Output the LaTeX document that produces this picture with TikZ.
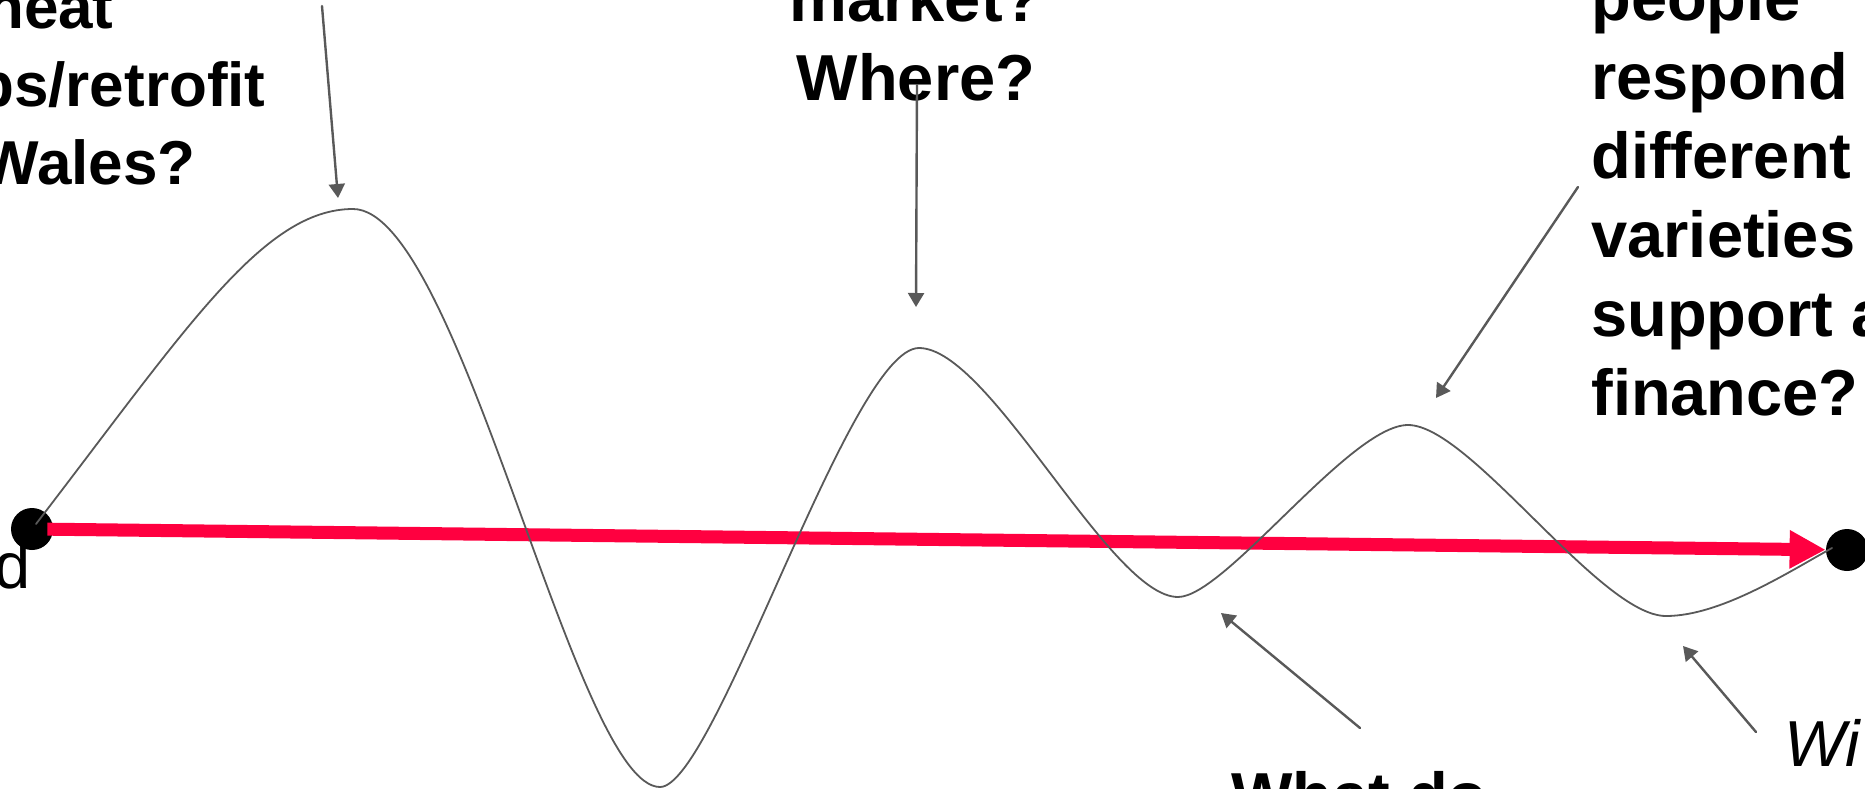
\documentclass[tikz,border=0pt]{standalone}
\usepackage{fontspec}
\setmainfont{Liberation Sans}
\usepackage{xcolor}
\usetikzlibrary{arrows.meta}
\definecolor{pathred}{RGB}{255,0,64}
\definecolor{wavegrey}{RGB}{89,89,89}
\tikzset{
  enddot/.style={circle, fill=black, minimum size=21pt, inner sep=0pt},
  qtext/.style={font=\fontsize{32.5}{39.5}\selectfont\bfseries, inner sep=0pt},
  plaintext/.style={font=\fontsize{32.5}{39.5}\selectfont, inner sep=0pt},
  pointer/.style={draw=wavegrey, line width=1.2pt, -{Triangle[length=7pt,width=8pt]}},
  mainpath/.style={draw=pathred, line width=6.5pt, line cap=butt, shorten <=-3pt,
    -{Triangle[length=18pt,width=18pt]}},
  wave/.style={draw=wavegrey, line width=0.9pt},
  every picture/.style={line cap=round, line join=round}
}

\begin{document}
\begin{tikzpicture}[x=0.5pt, y=-0.5pt]
  \useasboundingbox (0,0) rectangle (1865,788);
  \clip (0,0) rectangle (1865,788);

  % questions
  \node[qtext, font=\fontsize{31}{38}\selectfont\bfseries, anchor=base east] (heatq) at (114,28) {heat};
  \node[qtext, font=\fontsize{31}{38}\selectfont\bfseries, anchor=base east] (retrofitq) at (266,106) {ps/retrofit};
  \node[qtext, font=\fontsize{31}{38}\selectfont\bfseries, anchor=base east] (walesq) at (196,184) {Wales?};
  \node[qtext, align=center, anchor=base] (whereq) at (916,100) {market?\\Where?};
  \node[qtext, align=left, anchor=base west] (financeq) at (1591,415)
    {people\\respond\\different\\varieties\\support a\\finance?};
  \node[qtext, anchor=base west] (whatq) at (1231,818) {What do};
  \node[plaintext, anchor=base west] (willq) at (1784,766) {\itshape Wi};
  \node[plaintext, anchor=base east] (startlbl) at (31,588) {d};

  % start and goal
  \node[enddot] (start) at (32,529) {};
  \node[enddot] (goal) at (1847,550) {};
  \draw[mainpath] (start) -- (goal);

  % the winding way
  \draw[wave] (36,524)
    .. controls (186,329) and (263,209) .. (353,209)
    .. controls (460,209) and (575,787) .. (660,787)
    .. controls (715,787) and (850,348) .. (919,348)
    .. controls (990,348) and (1110,597) .. (1178,597)
    .. controls (1225,597) and (1350,425) .. (1408,425)
    .. controls (1470,425) and (1600,616) .. (1666,616)
    .. controls (1720,616) and (1787,573) .. (1832,548);

  % pointers
  \coordinate (heattail) at (322,6);
  \coordinate (crestA) at (338,198);
  \coordinate (wheretail) at (917,85);
  \coordinate (crestB) at (916,307);
  \coordinate (financetail) at (1578,187);
  \coordinate (crestC) at (1436,398);
  \coordinate (whattail) at (1360,728);
  \coordinate (dipA) at (1221,613);
  \coordinate (willtail) at (1756,732);
  \coordinate (dipB) at (1683,646);
  \draw[pointer] (heattail) -- (crestA);
  \draw[pointer] (wheretail) -- (crestB);
  \draw[pointer] (financetail) -- (crestC);
  \draw[pointer] (whattail) -- (dipA);
  \draw[pointer] (willtail) -- (dipB);
\end{tikzpicture}
\end{document}
